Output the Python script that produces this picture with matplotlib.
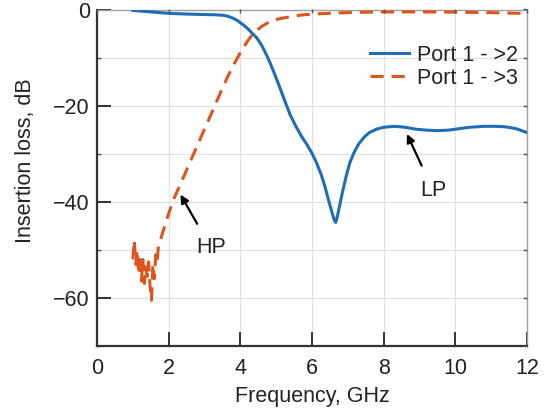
import matplotlib
matplotlib.use("Agg")
import matplotlib.pyplot as plt

plt.rcParams['font.family'] = ['Liberation Sans', 'DejaVu Sans']

# Port 1 -> 2 (low-pass, solid)
f_lp = [1.0, 1.5, 2.0, 2.5, 3.0, 3.3, 3.52, 3.65, 3.78, 3.9, 4.0, 4.1, 4.18, 4.3, 4.46, 4.6, 4.72, 4.83,
        4.95, 5.1, 5.25, 5.39, 5.55, 5.7, 5.85, 6.0, 6.12, 6.25, 6.36, 6.46, 6.55, 6.62, 6.66, 6.7,
        6.76, 6.85, 6.95, 7.05, 7.17, 7.3, 7.45, 7.6, 7.8, 8.0, 8.3, 8.6, 8.9, 9.2, 9.5, 9.8, 10.1,
        10.4, 10.8, 11.1, 11.4, 11.7, 12.0]
il_lp = [-0.2, -0.5, -0.8, -0.95, -1.05, -1.1, -1.2, -1.4, -1.75, -2.2, -2.75, -3.3, -3.8, -4.7, -5.9, -7.5, -9.3, -11.1,
         -13.3, -16.2, -19.2, -21.9, -24.3, -26.3, -28.0, -29.9, -31.8, -34.2, -36.8, -39.6, -42.0, -43.8, -44.3, -43.3,
         -41.2, -38.0, -34.8, -32.0, -29.8, -28.0, -26.6, -25.6, -24.9, -24.5, -24.3, -24.5, -24.9, -25.1, -25.2, -25.1, -24.8,
         -24.5, -24.3, -24.3, -24.4, -24.8, -25.6]

# Port 1 -> 3 (high-pass, dashed)
f_hp = [1.00, 1.04, 1.08, 1.12, 1.16, 1.20, 1.24, 1.28, 1.32, 1.36, 1.40, 1.44, 1.48, 1.52, 1.56, 1.60,
        1.64, 1.68, 1.71, 1.80, 1.94, 2.13, 2.33, 2.6, 2.87, 3.2, 3.52, 3.75, 3.99, 4.18, 4.36, 4.6,
        4.83, 5.1, 5.39, 5.7, 6.04, 6.6, 7.2, 7.9, 9.0, 10.0, 11.0, 11.8, 12.0]
il_hp = [-52.0, -48.0, -53.0, -50.0, -55.0, -51.0, -56.5, -52.0, -57.0, -53.5, -55.5, -52.5, -57.5, -60.5, -53.0, -56.0,
         -51.0, -52.5, -49.6, -47.2, -43.8, -39.6, -36.3, -31.7, -27.1, -21.5, -16.0, -12.4, -9.1, -6.8, -4.95, -3.5,
         -2.5, -1.9, -1.5, -1.15, -0.94, -0.75, -0.6, -0.52, -0.5, -0.55, -0.65, -0.8, -0.85]

xticks = [0, 2, 4, 6, 8, 10, 12]
yticks = [0, -20, -40, -60]
yticklabels = ['0', '\u221220', '\u221240', '\u221260']

FS = 15.5
TXT = '#222222'

fig = plt.figure(figsize=(5.46, 4.13), dpi=100)
ax = fig.add_axes([97/546, 67/413, 430/546, 336.5/413])

ax.plot(f_lp, il_lp, color='#1f6db4', lw=2.2, label='Port 1 - >2', zorder=3)
ax.plot(f_hp, il_hp, color='#dd541e', lw=2.2, ls=(0, (4.3, 2.6)), dash_capstyle='butt',
        label='Port 1 - >3', zorder=3)

ax.set_xlim(0, 12)
ax.set_ylim(-70, 0)
ax.set_xticks(xticks)
ax.set_yticks(yticks)
ax.set_yticks([-10, -30, -50, -70], minor=True)
ax.set_yticklabels(yticklabels)
ax.grid(True, which='both', color='#e2e2e2', lw=0.9, zorder=0)
ax.set_axisbelow(True)

ax.tick_params(axis='both', which='major', direction='in', length=10, width=1.4,
               color='#333333', labelsize=FS, labelcolor=TXT)
ax.tick_params(axis='x', pad=8.5)
ax.tick_params(axis='y', pad=5)
ax.tick_params(axis='y', which='minor', direction='in', length=3, width=1.0, color='#555555')

for s in ['left', 'bottom']:
    ax.spines[s].set_color('#333333')
    ax.spines[s].set_linewidth(1.6)
for s in ['top', 'right']:
    ax.spines[s].set_color('#a0a0a0')
    ax.spines[s].set_linewidth(1.0)

# short ticks on top and right
axr = ax.twinx()
axr.set_ylim(ax.get_ylim())
axr.set_yticks([0, -10, -20, -30, -40, -50, -60, -70])
axr.tick_params(axis='y', direction='in', length=3, width=1.0, color='#555555', labelright=False)
axt = ax.twiny()
axt.set_xlim(ax.get_xlim())
axt.set_xticks(xticks)
axt.tick_params(axis='x', direction='in', length=3, width=1.0, color='#555555', labeltop=False)
for a in (axr, axt):
    for s in a.spines.values():
        s.set_visible(False)

ax.set_xlabel('Frequency, GHz', fontsize=FS, color=TXT)
ax.set_ylabel('Insertion loss, dB', fontsize=FS, color=TXT)
ax.yaxis.set_label_coords(-0.142, 0.55)
ax.xaxis.set_label_coords(0.5, -0.12)

arrow = dict(arrowstyle='-|>', color='black', lw=1.6, mutation_scale=12, shrinkA=9, shrinkB=0)
ax.annotate('HP', xy=(2.33, -38.5), xytext=(3.18, -49.6), fontsize=FS, color=TXT,
            ha='center', va='center', arrowprops=arrow)
ax.annotate('LP', xy=(8.65, -25.9), xytext=(9.38, -37.6), fontsize=FS, color=TXT,
            ha='center', va='center', arrowprops=arrow)

leg = ax.legend(loc='upper right', bbox_to_anchor=(0.98, 0.895), frameon=False, fontsize=FS,
                handlelength=1.8, handletextpad=0.4, labelspacing=0.1, borderpad=0.0,
                borderaxespad=0.0)
for t in leg.get_texts():
    t.set_color(TXT)

fig.savefig('out.png', dpi=100)
